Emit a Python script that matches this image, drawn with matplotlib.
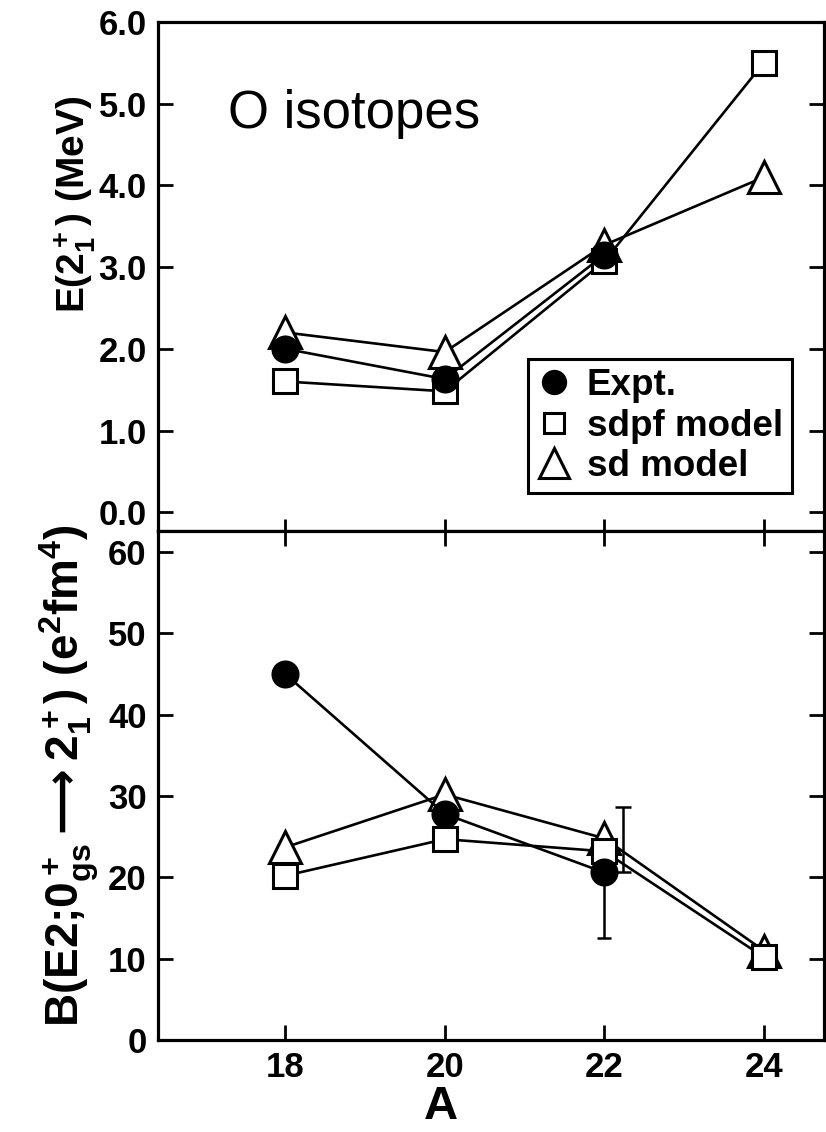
import matplotlib
matplotlib.use("Agg")
from matplotlib import pyplot as plt
from matplotlib.lines import Line2D
from matplotlib.ticker import FormatStrFormatter

plt.rcParams['font.family'] = ['Liberation Sans', 'DejaVu Sans']
plt.rcParams['font.weight'] = 'bold'
plt.rcParams['mathtext.fontset'] = 'custom'
plt.rcParams['mathtext.rm'] = 'Liberation Sans:bold'
plt.rcParams['mathtext.bf'] = 'Liberation Sans:bold'
plt.rcParams['mathtext.it'] = 'Liberation Sans:bold'
plt.rcParams['mathtext.sf'] = 'DejaVu Sans:bold'

# mass number A
A = [18, 20, 22, 24]
A_expt = [18, 20, 22]

# E(2+) in MeV
e_expt = [2.0, 1.63, 3.15]
e_sdpf = [1.6, 1.48, 3.07, 5.5]
e_sd = [2.2, 1.96, 3.27, 4.1]

# B(E2) in e^2 fm^4
b_expt = [45.0, 27.8, 20.6]
b_sdpf = [20.2, 24.7, 23.2, 10.2]
b_sd = [23.7, 30.2, 24.8, 11.0]
# error bar at A=22 (lower / upper)
b_err_A = 22
b_err_lo = 8.1
b_err_hi = 8.1

lw = 1.9
mew = 2.2
circ = dict(marker='o', ms=18, mfc='black', mec='black', mew=mew)
sq = dict(marker='s', ms=17, mfc='white', mec='black', mew=mew)
tri = dict(marker='^', ms=23, mfc='white', mec='black', mew=mew)

fig = plt.figure(figsize=(8.26, 11.32), dpi=100)
ax1 = fig.add_axes([0.191, 0.5309, 0.806, 0.4497])
ax2 = fig.add_axes([0.191, 0.0813, 0.806, 0.4496])

for ax in (ax1, ax2):
    for s in ax.spines.values():
        s.set_linewidth(2.3)
    ax.set_xlim(16.4, 24.75)
    ax.set_xticks(A)
    ax.tick_params(axis='both', direction='in', width=2.0, length=11,
                   labelsize=25, right=True, pad=8)

# top panel
ax1.plot(A, e_sd, color='black', lw=lw, zorder=2, **tri)
ax1.plot(A, e_sdpf, color='black', lw=lw, zorder=3, **sq)
ax1.plot(A_expt, e_expt, color='black', lw=lw, zorder=4, **circ)
ax1.set_ylim(-0.23, 6.0)
ax1.set_yticks([0, 1, 2, 3, 4, 5, 6])
ax1.yaxis.set_major_formatter(FormatStrFormatter('%.1f'))
ax1.tick_params(axis='x', labelbottom=False, length=9)
ax1.text(0.105, 0.819, 'O isotopes', transform=ax1.transAxes,
         fontsize=38, fontweight='normal', ha='left', va='center')

handles = [
    Line2D([], [], ls='none', marker='o', ms=16, mfc='black', mec='black', mew=mew),
    Line2D([], [], ls='none', marker='s', ms=14, mfc='white', mec='black', mew=mew),
    Line2D([], [], ls='none', marker='^', ms=21, mfc='white', mec='black', mew=mew),
]
leg = ax1.legend(handles, ['Expt.', 'sdpf model', 'sd model'],
                 loc='upper left', bbox_to_anchor=(0.556, 0.338),
                 borderaxespad=0, fancybox=False, framealpha=1,
                 edgecolor='black', fontsize=26.5, handlelength=0.9,
                 handletextpad=0.45, labelspacing=0.15, borderpad=0.25)
leg.get_frame().set_linewidth(2.2)

# bottom panel
ax2.errorbar([b_err_A], [b_expt[2]], yerr=[[b_err_lo], [0]], fmt='none',
             ecolor='black', elinewidth=1.8, capsize=5, capthick=1.8, zorder=1)
ax2.errorbar([b_err_A + 0.24], [b_expt[2]], yerr=[[0], [b_err_hi]], fmt='none',
             ecolor='black', elinewidth=1.8, capsize=6, capthick=1.8, zorder=1)
ax2.plot(A, b_sd, color='black', lw=lw, zorder=2, **tri)
ax2.plot(A, b_sdpf, color='black', lw=lw, zorder=3, **sq)
ax2.plot(A_expt, b_expt, color='black', lw=lw, zorder=4, **circ)
ax2.set_ylim(0, 62.6)
ax2.set_yticks([0, 10, 20, 30, 40, 50, 60])
ax2.tick_params(axis='x', top=True, pad=8)

fig.text(0.091, 0.819, r'E(2$^+_1$) (MeV)', rotation=90, fontsize=28,
         ha='center', va='center')
fig.text(0.084, 0.315,
         r'B(E2;0$^+_{gs}\mathsf{\longrightarrow}$2$^+_1$) (e$^2$fm$^4$)',
         rotation=90, fontsize=33, ha='center', va='center')
fig.text(0.534, 0.022, 'A', fontsize=34, ha='center', va='center')

fig.savefig('out.png', dpi=100)
